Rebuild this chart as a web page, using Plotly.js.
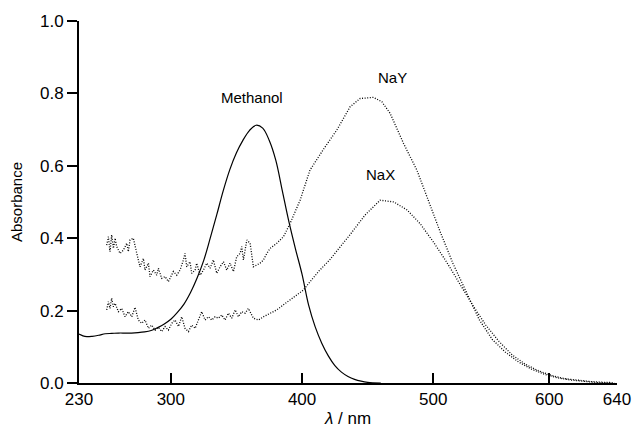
<!DOCTYPE html>
<html>
<head>
<meta charset="utf-8">
<script src="https://cdn.plot.ly/plotly-3.0.1.min.js"></script>
<style>html,body{margin:0;padding:0;background:#fff;}#chart{width:633px;height:428px;}</style>
</head>
<body>
<div id="chart"></div>
<script>
// Methanol (solid)
const methanolX = [230,233,236,240,245,250,255,260,265,270,275,280,285,290,295,300,305,310,315,320,325,330,335,340,345,350,355,360,365,370,375,380,385,390,395,400,405,410,415,420,425,430,435,440,445,450,460];
const methanolY = [0.135,0.130,0.128,0.129,0.132,0.136,0.137,0.138,0.138,0.138,0.139,0.141,0.145,0.153,0.163,0.176,0.195,0.218,0.250,0.290,0.338,0.400,0.465,0.532,0.590,0.636,0.671,0.698,0.712,0.704,0.670,0.615,0.530,0.445,0.370,0.300,0.215,0.155,0.110,0.075,0.048,0.030,0.018,0.010,0.005,0.002,0.000];

// NaY (dotted, upper)
const nayX = [251.1,252.4,253.6,254.9,256.2,257.5,258.7,261.3,263.8,266.4,267.6,268.9,271.4,272.7,275.2,276.5,279.1,280.3,282.9,284.1,286.7,289.2,290.5,293.0,295.6,298.1,299.4,301.9,304.5,307.0,309.6,310.8,312.1,314.6,315.9,318.5,319.7,322.3,324.8,327.4,329.9,332.4,335.0,337.5,340.1,342.6,345.1,347.7,350.2,352.8,354.0,355.3,357.9,360.4,362.9,365.5,368.0,370.6,373.1,375.7,380.7,385.8,390.9,398.5,406,416,426.5,436.6,444.3,454.4,460.8,467.1,477.3,487.5,495,505,515,525,535,545,555,565,575,585,595,605,615,625,635];
const nayY = [0.381,0.404,0.363,0.409,0.372,0.400,0.377,0.358,0.367,0.386,0.363,0.395,0.400,0.377,0.340,0.321,0.344,0.312,0.331,0.294,0.312,0.298,0.317,0.289,0.294,0.280,0.289,0.308,0.298,0.312,0.340,0.358,0.321,0.335,0.303,0.312,0.331,0.298,0.312,0.331,0.317,0.340,0.303,0.321,0.335,0.312,0.331,0.308,0.349,0.358,0.377,0.340,0.395,0.386,0.321,0.326,0.331,0.340,0.358,0.372,0.386,0.404,0.441,0.505,0.588,0.644,0.699,0.763,0.786,0.789,0.777,0.745,0.662,0.588,0.515,0.420,0.330,0.250,0.175,0.120,0.085,0.058,0.038,0.024,0.014,0.008,0.004,0.001,0.000];

// NaX (dotted, lower)
const naxX = [251.1,252.4,253.6,254.9,256.2,257.5,260,262.5,265.1,267.6,270.2,272.7,275.2,277.8,280.3,282.9,285.4,288,290.5,293,295.6,298.1,300.7,303.2,305.8,308.3,310.8,313.4,315.9,318.5,321,323.5,326.1,328.6,331.2,333.7,336.2,338.8,341.3,343.9,346.4,349,351.5,354,356.6,359.1,362.9,366.8,370.6,375.7,380.7,385.8,390.9,396,401.1,406.1,413,421,429,436.6,448,459.5,470,480,490,500,510,520,530,540,550,560,570,580,590,600,610,620,630,638];
const naxY = [0.202,0.225,0.206,0.234,0.211,0.220,0.197,0.206,0.183,0.197,0.183,0.209,0.174,0.165,0.174,0.151,0.160,0.146,0.154,0.142,0.156,0.146,0.165,0.174,0.156,0.183,0.151,0.142,0.160,0.151,0.174,0.197,0.174,0.183,0.174,0.183,0.179,0.188,0.174,0.193,0.179,0.202,0.183,0.197,0.193,0.206,0.179,0.174,0.183,0.193,0.202,0.216,0.229,0.243,0.257,0.280,0.310,0.340,0.375,0.410,0.464,0.505,0.500,0.478,0.440,0.390,0.335,0.275,0.215,0.160,0.115,0.078,0.052,0.034,0.021,0.012,0.007,0.004,0.002,0.001];

// Axis ticks
const xTickVals = [230,300,400,500,588.4,640];
const xTickText = ["230","300","400","500","600","640"];
const yTickVals = [0,0.2,0.4,0.6,0.8,1.0];

const FONT = "Liberation Sans, Arial, sans-serif";
const DOT = "1px,1.6px";

const traces = [
  {x: methanolX, y: methanolY, mode: "lines", line: {color: "#000", width: 1.2, shape: "spline"}, hoverinfo: "skip"},
  {x: nayX, y: nayY, mode: "lines", line: {color: "#000", width: 1.3, dash: DOT}, hoverinfo: "skip"},
  {x: naxX, y: naxY, mode: "lines", line: {color: "#000", width: 1.3, dash: DOT}, hoverinfo: "skip"}
];

const layout = {
  width: 633, height: 428,
  margin: {l: 79, r: 16, t: 21, b: 45, pad: 0},
  paper_bgcolor: "#fff", plot_bgcolor: "#fff",
  showlegend: false,
  font: {family: FONT, color: "#000", size: 16},
  xaxis: {
    range: [230, 640], tickmode: "array", tickvals: xTickVals, ticktext: xTickText,
    ticks: "inside", ticklen: 10, tickwidth: 2, tickcolor: "#000",
    showline: true, linecolor: "#000", linewidth: 2, showgrid: false, zeroline: false,
    tickfont: {family: FONT, size: 17, color: "#000"},
    title: {text: "<i>λ</i> / nm", font: {family: FONT, size: 17, color: "#000"}, standoff: 8}
  },
  yaxis: {
    range: [0, 1.0], tickmode: "array", tickvals: yTickVals, tickformat: ".1f",
    ticks: "outside", ticklen: 10, tickwidth: 2, tickcolor: "#000",
    showline: true, linecolor: "#000", linewidth: 2, showgrid: false, zeroline: false,
    tickfont: {family: FONT, size: 17, color: "#000"},
    title: {text: "Absorbance", font: {family: FONT, size: 15, color: "#000"}, standoff: 14}
  },
  shapes: [
    {type: "line", xref: "paper", yref: "paper", x0: -0.021, x1: 0, y0: 0, y1: 0, line: {color: "#000", width: 2}}
  ],
  annotations: [
    {x: 362, y: 0.79, xref: "x", yref: "y", text: "Methanol", showarrow: false, font: {family: FONT, size: 15, color: "#000"}},
    {x: 469, y: 0.845, xref: "x", yref: "y", text: "NaY", showarrow: false, font: {family: FONT, size: 15, color: "#000"}},
    {x: 459.5, y: 0.577, xref: "x", yref: "y", text: "NaX", showarrow: false, font: {family: FONT, size: 15, color: "#000"}}
  ]
};

Plotly.newPlot("chart", traces, layout, {staticPlot: true, displayModeBar: false});
</script>
</body>
</html>
